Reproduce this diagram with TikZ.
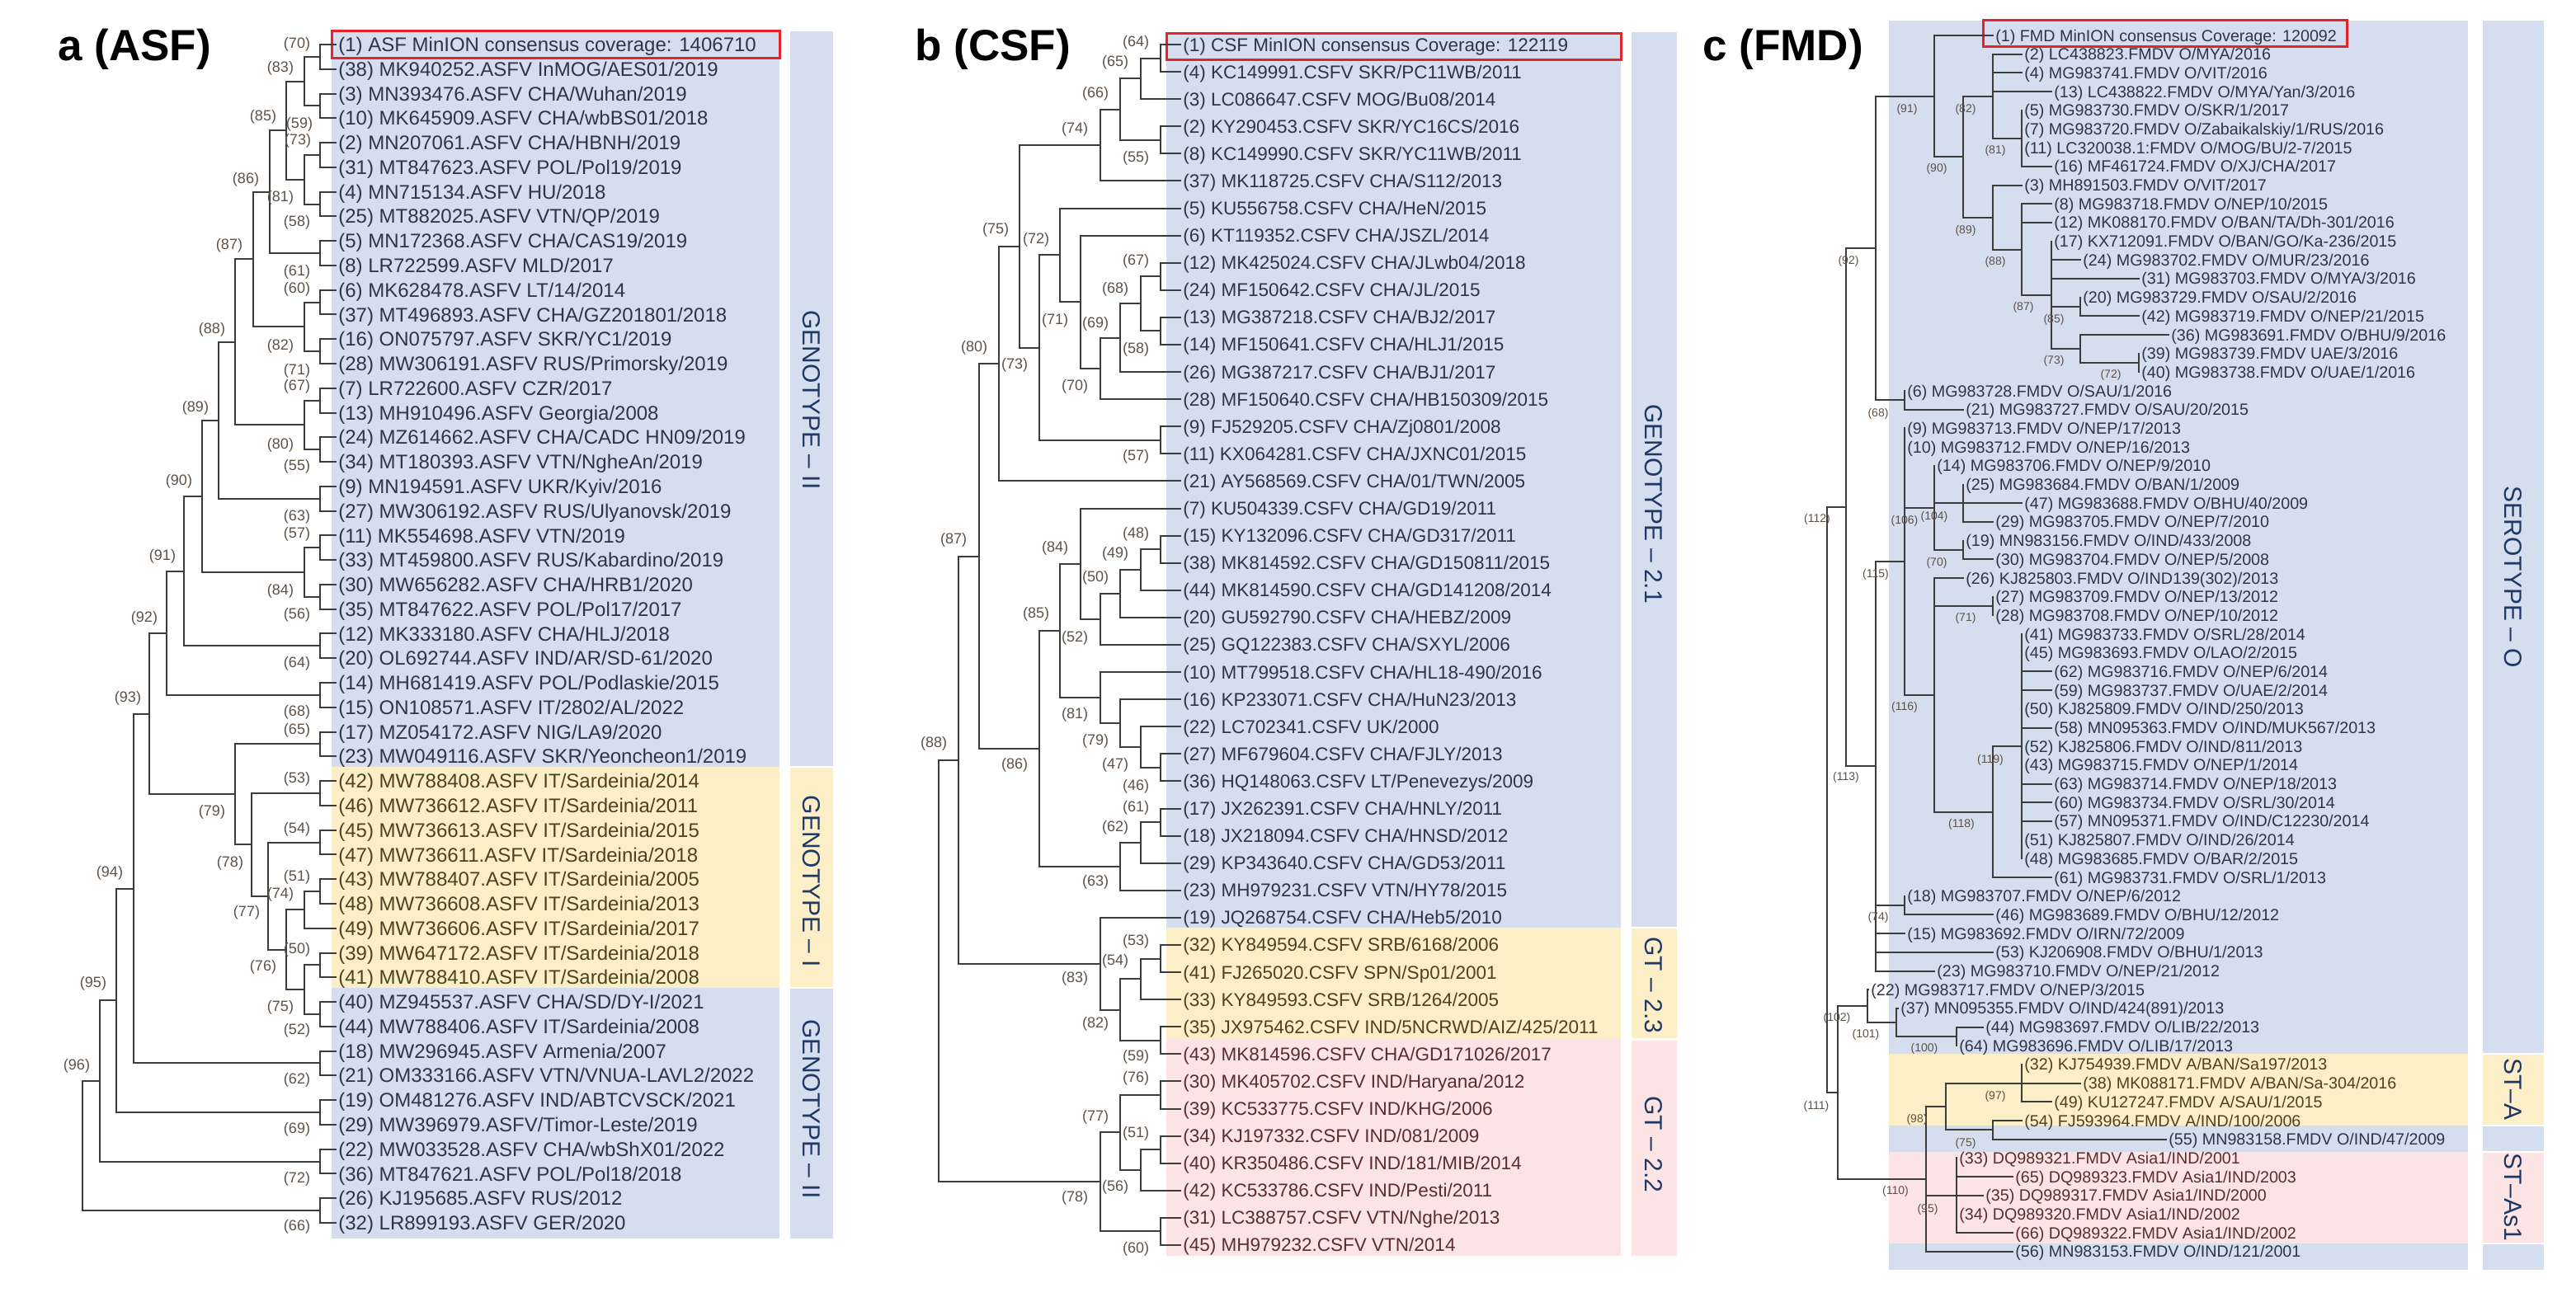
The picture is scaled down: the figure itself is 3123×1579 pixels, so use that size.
\documentclass[tikz,border=0pt]{standalone}
\usepackage{fontspec}
\setmainfont{Liberation Sans}
\definecolor{bgb}{HTML}{D5DEEF}
\definecolor{bgy}{HTML}{FCEFC8}
\definecolor{bgp}{HTML}{FCE3E4}
\definecolor{tblue}{HTML}{2E3548}
\definecolor{tyel}{HTML}{4E4124}
\definecolor{tpink}{HTML}{5A2E30}
\definecolor{treec}{HTML}{3C3C3C}
\definecolor{bsc}{HTML}{5E5246}
\definecolor{navy}{HTML}{1F3864}
\definecolor{redb}{HTML}{E3242B}
\newcommand\ra[1]{(54+(#1-1)*29.77)}
\newcommand\rb[1]{(54+(#1-1)*33.09)}
\newcommand\rc[1]{(43+(#1-1)*22.69)}
\newcommand\myleaf[5]{\coordinate (#1) at ({#2-2},{#3});\node[#4] (#1t) at (#2,{#3}) {#5};}
\newcommand\inode[3]{\coordinate (#1) at (#2,{#3});}
\newcommand\kids[2]{\foreach \k in {#2}{\draw[br] (#1) |- (\k);}}
\begin{document}
\begin{tikzpicture}[x=0.5pt,y=-0.5pt,
  br/.style={draw=treec,line width=1pt},
  leaf/.style={anchor=base west,inner sep=0pt},
  la/.style={leaf,font=\fontsize{12}{12}\selectfont,yshift=-4.3pt},
  lb/.style={leaf,font=\fontsize{11.25}{11.25}\selectfont,yshift=-4pt},
  lc/.style={leaf,font=\fontsize{9.85}{9.85}\selectfont,yshift=-3.5pt},
  cb/.style={text=tblue}, cy/.style={text=tyel}, cp/.style={text=tpink},
  bsa/.style={inner sep=0pt,text=bsc,font=\fontsize{9}{9}\selectfont},
  bsc/.style={inner sep=0pt,text=bsc,font=\fontsize{7}{7}\selectfont},
  bartext/.style={inner sep=0pt,text=navy,rotate=-90,font=\fontsize{15}{15}\selectfont},
  title/.style={anchor=base west,inner sep=0pt,font=\fontsize{26.5}{26.5}\selectfont\bfseries},
  redbox/.style={draw=redb,line width=1.5pt}]
\useasboundingbox (0,0) rectangle (3123,1579);
% ---------------- backgrounds ----------------
\fill[bgb] (402,38) rectangle (945,930);
\fill[bgy] (402,930) rectangle (945,1198);
\fill[bgb] (402,1198) rectangle (945,1502);
\fill[bgb] (958,38) rectangle (1010,929);
\fill[bgy] (958,931) rectangle (1010,1197);
\fill[bgb] (958,1199) rectangle (1010,1502);
\fill[bgb] (1414,39) rectangle (1965,1125);
\fill[bgy] (1414,1125) rectangle (1965,1260);
\fill[bgp] (1414,1260) rectangle (1965,1523);
\fill[bgb] (1978,39) rectangle (2033,1124);
\fill[bgy] (1978,1126) rectangle (2033,1259);
\fill[bgp] (1978,1262) rectangle (2033,1523);
\fill[bgb] (2290,25) rectangle (2992,1278);
\fill[bgy] (2290,1278) rectangle (2992,1365);
\fill[bgb] (2290,1365) rectangle (2992,1397);
\fill[bgp] (2290,1397) rectangle (2992,1508);
\fill[bgb] (2290,1508) rectangle (2992,1540);
\fill[bgb] (3010,25) rectangle (3084,1277);
\fill[bgy] (3010,1279) rectangle (3084,1364);
\fill[bgb] (3010,1366) rectangle (3084,1396);
\fill[bgp] (3010,1398) rectangle (3084,1507);
\fill[bgb] (3010,1509) rectangle (3084,1540);
% ---------------- titles ----------------
\node[title] (ta) at (70,73) {a (ASF)};
\node[title] (tb) at (1109,73) {b (CSF)};
\node[title] (tc) at (2064,73) {c (FMD)};
% ---------------- bar labels ----------------
\node[bartext] (ga1) at (984,485) {GENOTYPE – II};
\node[bartext] (ga2) at (984,1069) {GENOTYPE – I};
\node[bartext] (ga3) at (984,1345) {GENOTYPE – II};
\node[bartext] (gb1) at (2005,611) {GENOTYPE – 2.1};
\node[bartext] (gb2) at (2005,1195) {GT – 2.3};
\node[bartext] (gb3) at (2005,1388) {GT – 2.2};
\node[bartext] (gc1) at (3047,700) {SEROTYPE – O};
\node[bartext] (gc2) at (3047,1321) {ST–A};
\node[bartext] (gc3) at (3047,1452) {ST–As1};
% ================= PANEL A =================
\myleaf{a1}{410}{\ra{1}}{la,cb}{(1) ASF MinION consensus coverage: 1406710}
\myleaf{a2}{410}{\ra{2}}{la,cb}{(38) MK940252.ASFV InMOG/AES01/2019}
\myleaf{a3}{410}{\ra{3}}{la,cb}{(3) MN393476.ASFV CHA/Wuhan/2019}
\myleaf{a4}{410}{\ra{4}}{la,cb}{(10) MK645909.ASFV CHA/wbBS01/2018}
\myleaf{a5}{410}{\ra{5}}{la,cb}{(2) MN207061.ASFV CHA/HBNH/2019}
\myleaf{a6}{410}{\ra{6}}{la,cb}{(31) MT847623.ASFV POL/Pol19/2019}
\myleaf{a7}{410}{\ra{7}}{la,cb}{(4) MN715134.ASFV HU/2018}
\myleaf{a8}{410}{\ra{8}}{la,cb}{(25) MT882025.ASFV VTN/QP/2019}
\myleaf{a9}{410}{\ra{9}}{la,cb}{(5) MN172368.ASFV CHA/CAS19/2019}
\myleaf{a10}{410}{\ra{10}}{la,cb}{(8) LR722599.ASFV MLD/2017}
\myleaf{a11}{410}{\ra{11}}{la,cb}{(6) MK628478.ASFV LT/14/2014}
\myleaf{a12}{410}{\ra{12}}{la,cb}{(37) MT496893.ASFV CHA/GZ201801/2018}
\myleaf{a13}{410}{\ra{13}}{la,cb}{(16) ON075797.ASFV SKR/YC1/2019}
\myleaf{a14}{410}{\ra{14}}{la,cb}{(28) MW306191.ASFV RUS/Primorsky/2019}
\myleaf{a15}{410}{\ra{15}}{la,cb}{(7) LR722600.ASFV CZR/2017}
\myleaf{a16}{410}{\ra{16}}{la,cb}{(13) MH910496.ASFV Georgia/2008}
\myleaf{a17}{410}{\ra{17}}{la,cb}{(24) MZ614662.ASFV CHA/CADC HN09/2019}
\myleaf{a18}{410}{\ra{18}}{la,cb}{(34) MT180393.ASFV VTN/NgheAn/2019}
\myleaf{a19}{410}{\ra{19}}{la,cb}{(9) MN194591.ASFV UKR/Kyiv/2016}
\myleaf{a20}{410}{\ra{20}}{la,cb}{(27) MW306192.ASFV RUS/Ulyanovsk/2019}
\myleaf{a21}{410}{\ra{21}}{la,cb}{(11) MK554698.ASFV VTN/2019}
\myleaf{a22}{410}{\ra{22}}{la,cb}{(33) MT459800.ASFV RUS/Kabardino/2019}
\myleaf{a23}{410}{\ra{23}}{la,cb}{(30) MW656282.ASFV CHA/HRB1/2020}
\myleaf{a24}{410}{\ra{24}}{la,cb}{(35) MT847622.ASFV POL/Pol17/2017}
\myleaf{a25}{410}{\ra{25}}{la,cb}{(12) MK333180.ASFV CHA/HLJ/2018}
\myleaf{a26}{410}{\ra{26}}{la,cb}{(20) OL692744.ASFV IND/AR/SD-61/2020}
\myleaf{a27}{410}{\ra{27}}{la,cb}{(14) MH681419.ASFV POL/Podlaskie/2015}
\myleaf{a28}{410}{\ra{28}}{la,cb}{(15) ON108571.ASFV IT/2802/AL/2022}
\myleaf{a29}{410}{\ra{29}}{la,cb}{(17) MZ054172.ASFV NIG/LA9/2020}
\myleaf{a30}{410}{\ra{30}}{la,cb}{(23) MW049116.ASFV SKR/Yeoncheon1/2019}
\myleaf{a31}{410}{\ra{31}}{la,cy}{(42) MW788408.ASFV IT/Sardeinia/2014}
\myleaf{a32}{410}{\ra{32}}{la,cy}{(46) MW736612.ASFV IT/Sardeinia/2011}
\myleaf{a33}{410}{\ra{33}}{la,cy}{(45) MW736613.ASFV IT/Sardeinia/2015}
\myleaf{a34}{410}{\ra{34}}{la,cy}{(47) MW736611.ASFV IT/Sardeinia/2018}
\myleaf{a35}{410}{\ra{35}}{la,cy}{(43) MW788407.ASFV IT/Sardeinia/2005}
\myleaf{a36}{410}{\ra{36}}{la,cy}{(48) MW736608.ASFV IT/Sardeinia/2013}
\myleaf{a37}{410}{\ra{37}}{la,cy}{(49) MW736606.ASFV IT/Sardeinia/2017}
\myleaf{a38}{410}{\ra{38}}{la,cy}{(39) MW647172.ASFV IT/Sardeinia/2018}
\myleaf{a39}{410}{\ra{39}}{la,cy}{(41) MW788410.ASFV IT/Sardeinia/2008}
\myleaf{a40}{410}{\ra{40}}{la,cb}{(40) MZ945537.ASFV CHA/SD/DY-I/2021}
\myleaf{a41}{410}{\ra{41}}{la,cb}{(44) MW788406.ASFV IT/Sardeinia/2008}
\myleaf{a42}{410}{\ra{42}}{la,cb}{(18) MW296945.ASFV Armenia/2007}
\myleaf{a43}{410}{\ra{43}}{la,cb}{(21) OM333166.ASFV VTN/VNUA-LAVL2/2022}
\myleaf{a44}{410}{\ra{44}}{la,cb}{(19) OM481276.ASFV IND/ABTCVSCK/2021}
\myleaf{a45}{410}{\ra{45}}{la,cb}{(29) MW396979.ASFV/Timor-Leste/2019}
\myleaf{a46}{410}{\ra{46}}{la,cb}{(22) MW033528.ASFV CHA/wbShX01/2022}
\myleaf{a47}{410}{\ra{47}}{la,cb}{(36) MT847621.ASFV POL/Pol18/2018}
\myleaf{a48}{410}{\ra{48}}{la,cb}{(26) KJ195685.ASFV RUS/2012}
\myleaf{a49}{410}{\ra{49}}{la,cb}{(32) LR899193.ASFV GER/2020}
\draw[redbox] (402,37) rectangle (945,70);
\foreach \i/\j in {1/2,3/4,5/6,7/8,9/10,11/12,13/14,15/16,17/18,19/20,21/22,23/24,25/26,27/28,29/30,31/32,33/34,35/36,38/39,40/41,42/43,44/45,46/47,48/49}{
  \coordinate (ap\i) at (388,{54+((\i+\j)/2-1)*29.77});
  \draw[br] (ap\i) |- (a\i);
  \draw[br] (ap\i) |- (a\j);}
\inode{aN2}{369}{\ra{2.5}} \kids{aN2}{ap1,ap3}
\inode{aN56}{369}{\ra{6.5}} \kids{aN56}{ap5,ap7}
\inode{aN3}{347}{\ra{4.5}} \kids{aN3}{aN2,aN56}
\inode{aN4}{327}{\ra{7}} \kids{aN4}{aN3,ap9}
\inode{aN5}{369}{\ra{12.5}} \kids{aN5}{ap11,ap13}
\inode{aN6}{307}{\ra{9.75}} \kids{aN6}{aN4,aN5}
\inode{aN8}{369}{\ra{16.5}} \kids{aN8}{ap15,ap17}
\inode{aN7}{285}{\ra{13.125}} \kids{aN7}{aN6,aN8}
\inode{aN9}{265}{\ra{16.3125}} \kids{aN9}{aN7,ap19}
\inode{aN10}{369}{\ra{22.5}} \kids{aN10}{ap21,ap23}
\inode{aN11}{245}{\ra{19.406}} \kids{aN11}{aN9,aN10}
\inode{aN12}{223}{\ra{22.453}} \kids{aN12}{aN11,ap25}
\inode{aN13}{202}{\ra{24.977}} \kids{aN13}{aN12,ap27}
\inode{aP1}{369}{\ra{36.25}} \kids{aP1}{ap35,a37}
\inode{aP2}{369}{\ra{39.5}} \kids{aP2}{ap38,ap40}
\inode{aP3}{347}{\ra{37.875}} \kids{aP3}{aP1,aP2}
\inode{aP4}{325}{\ra{35.6875}} \kids{aP4}{ap33,aP3}
\inode{aP5}{305}{\ra{33.594}} \kids{aP5}{ap31,aP4}
\inode{aP6}{285}{\ra{31.547}} \kids{aP6}{ap29,aP5}
\inode{aN14}{181}{\ra{28.262}} \kids{aN14}{aN13,aP6}
\inode{aN15}{162}{\ra{35.381}} \kids{aN15}{aN14,ap42}
\inode{aN16}{141}{\ra{39.94}} \kids{aN16}{aN15,ap44}
\inode{aN17}{121}{\ra{43.22}} \kids{aN17}{aN16,ap46}
\inode{aN18}{100}{\ra{45.86}} \kids{aN18}{aN17,ap48}
\foreach \x/\y/\t [count=\i] in {360/54/70,340/83/83,319/142/85,363/151/59,361/171/73,298/218/86,340/240/81,360/270/58,278/298/87,360/330/61,360/351/60,257/400/88,340/420/82,360/450/71,360/469/67,237/495/89,340/540/80,360/566/55,217/584/90,360/627/63,360/648/57,197/675/91,340/717/84,360/746/56,175/750/92,360/805/64,155/847/93,360/864/68,360/886/65,360/945/53,257/985/79,360/1006/54,279/1047/78,133/1059/94,360/1064/51,340/1085/74,299/1107/77,360/1152/50,319/1173/76,113/1193/95,340/1222/75,360/1250/52,93/1293/96,360/1310/62,360/1370/69,360/1430/72,360/1488/66}
  {\node[bsa] (bsa\i) at (\x,\y) {(\t)};}
% ================= PANEL B =================
\myleaf{b1}{1434}{\rb{1}}{lb,cb}{(1) CSF MinION consensus Coverage: 122119}
\myleaf{b2}{1434}{\rb{2}}{lb,cb}{(4) KC149991.CSFV SKR/PC11WB/2011}
\myleaf{b3}{1434}{\rb{3}}{lb,cb}{(3) LC086647.CSFV MOG/Bu08/2014}
\myleaf{b4}{1434}{\rb{4}}{lb,cb}{(2) KY290453.CSFV SKR/YC16CS/2016}
\myleaf{b5}{1434}{\rb{5}}{lb,cb}{(8) KC149990.CSFV SKR/YC11WB/2011}
\myleaf{b6}{1434}{\rb{6}}{lb,cb}{(37) MK118725.CSFV CHA/S112/2013}
\myleaf{b7}{1434}{\rb{7}}{lb,cb}{(5) KU556758.CSFV CHA/HeN/2015}
\myleaf{b8}{1434}{\rb{8}}{lb,cb}{(6) KT119352.CSFV CHA/JSZL/2014}
\myleaf{b9}{1434}{\rb{9}}{lb,cb}{(12) MK425024.CSFV CHA/JLwb04/2018}
\myleaf{b10}{1434}{\rb{10}}{lb,cb}{(24) MF150642.CSFV CHA/JL/2015}
\myleaf{b11}{1434}{\rb{11}}{lb,cb}{(13) MG387218.CSFV CHA/BJ2/2017}
\myleaf{b12}{1434}{\rb{12}}{lb,cb}{(14) MF150641.CSFV CHA/HLJ1/2015}
\myleaf{b13}{1434}{\rb{13}}{lb,cb}{(26) MG387217.CSFV CHA/BJ1/2017}
\myleaf{b14}{1434}{\rb{14}}{lb,cb}{(28) MF150640.CSFV CHA/HB150309/2015}
\myleaf{b15}{1434}{\rb{15}}{lb,cb}{(9) FJ529205.CSFV CHA/Zj0801/2008}
\myleaf{b16}{1434}{\rb{16}}{lb,cb}{(11) KX064281.CSFV CHA/JXNC01/2015}
\myleaf{b17}{1434}{\rb{17}}{lb,cb}{(21) AY568569.CSFV CHA/01/TWN/2005}
\myleaf{b18}{1434}{\rb{18}}{lb,cb}{(7) KU504339.CSFV CHA/GD19/2011}
\myleaf{b19}{1434}{\rb{19}}{lb,cb}{(15) KY132096.CSFV CHA/GD317/2011}
\myleaf{b20}{1434}{\rb{20}}{lb,cb}{(38) MK814592.CSFV CHA/GD150811/2015}
\myleaf{b21}{1434}{\rb{21}}{lb,cb}{(44) MK814590.CSFV CHA/GD141208/2014}
\myleaf{b22}{1434}{\rb{22}}{lb,cb}{(20) GU592790.CSFV CHA/HEBZ/2009}
\myleaf{b23}{1434}{\rb{23}}{lb,cb}{(25) GQ122383.CSFV CHA/SXYL/2006}
\myleaf{b24}{1434}{\rb{24}}{lb,cb}{(10) MT799518.CSFV CHA/HL18-490/2016}
\myleaf{b25}{1434}{\rb{25}}{lb,cb}{(16) KP233071.CSFV CHA/HuN23/2013}
\myleaf{b26}{1434}{\rb{26}}{lb,cb}{(22) LC702341.CSFV UK/2000}
\myleaf{b27}{1434}{\rb{27}}{lb,cb}{(27) MF679604.CSFV CHA/FJLY/2013}
\myleaf{b28}{1434}{\rb{28}}{lb,cb}{(36) HQ148063.CSFV LT/Penevezys/2009}
\myleaf{b29}{1434}{\rb{29}}{lb,cb}{(17) JX262391.CSFV CHA/HNLY/2011}
\myleaf{b30}{1434}{\rb{30}}{lb,cb}{(18) JX218094.CSFV CHA/HNSD/2012}
\myleaf{b31}{1434}{\rb{31}}{lb,cb}{(29) KP343640.CSFV CHA/GD53/2011}
\myleaf{b32}{1434}{\rb{32}}{lb,cb}{(23) MH979231.CSFV VTN/HY78/2015}
\myleaf{b33}{1434}{\rb{33}}{lb,cb}{(19) JQ268754.CSFV CHA/Heb5/2010}
\myleaf{b34}{1434}{\rb{34}}{lb,cy}{(32) KY849594.CSFV SRB/6168/2006}
\myleaf{b35}{1434}{\rb{35}}{lb,cy}{(41) FJ265020.CSFV SPN/Sp01/2001}
\myleaf{b36}{1434}{\rb{36}}{lb,cy}{(33) KY849593.CSFV SRB/1264/2005}
\myleaf{b37}{1434}{\rb{37}}{lb,cy}{(35) JX975462.CSFV IND/5NCRWD/AIZ/425/2011}
\myleaf{b38}{1434}{\rb{38}}{lb,cp}{(43) MK814596.CSFV CHA/GD171026/2017}
\myleaf{b39}{1434}{\rb{39}}{lb,cp}{(30) MK405702.CSFV IND/Haryana/2012}
\myleaf{b40}{1434}{\rb{40}}{lb,cp}{(39) KC533775.CSFV IND/KHG/2006}
\myleaf{b41}{1434}{\rb{41}}{lb,cp}{(34) KJ197332.CSFV IND/081/2009}
\myleaf{b42}{1434}{\rb{42}}{lb,cp}{(40) KR350486.CSFV IND/181/MIB/2014}
\myleaf{b43}{1434}{\rb{43}}{lb,cp}{(42) KC533786.CSFV IND/Pesti/2011}
\myleaf{b44}{1434}{\rb{44}}{lb,cp}{(31) LC388757.CSFV VTN/Nghe/2013}
\myleaf{b45}{1434}{\rb{45}}{lb,cp}{(45) MH979232.CSFV VTN/2014}
\draw[redbox] (1414,40) rectangle (1965,72);
\foreach \i/\j in {1/2,4/5,9/10,11/12,15/16,19/20,27/28,29/30,34/35,37/38,39/40,41/42,44/45}{
  \coordinate (bq\i) at (1407,{54+((\i+\j)/2-1)*33.09});
  \draw[br] (bq\i) |- (b\i);
  \draw[br] (bq\i) |- (b\j);}
\inode{bB1}{1383}{\rb{2.25}} \kids{bB1}{bq1,b3}
\inode{bB2}{1358}{\rb{3.375}} \kids{bB2}{bB1,bq4}
\inode{bB3}{1334}{\rb{4.6875}} \kids{bB3}{bB2,b6}
\inode{bB4}{1383}{\rb{10.5}} \kids{bB4}{bq9,bq11}
\inode{bB5}{1358}{\rb{11.75}} \kids{bB5}{bB4,b13}
\inode{bB6}{1334}{\rb{12.875}} \kids{bB6}{bB5,b14}
\inode{bB7}{1310}{\rb{10.4375}} \kids{bB7}{b8,bB6}
\inode{bB8}{1285}{\rb{8.71875}} \kids{bB8}{b7,bB7}
\inode{bB9}{1260}{\rb{12.109}} \kids{bB9}{bB8,bq15}
\inode{bB10}{1236}{\rb{8.398}} \kids{bB10}{bB3,bB9}
\inode{bB11}{1211}{\rb{12.699}} \kids{bB11}{bB10,b17}
\inode{bC1}{1383}{\rb{20.25}} \kids{bC1}{bq19,b21}
\inode{bC2}{1358}{\rb{21.125}} \kids{bC2}{bC1,b22}
\inode{bC3}{1334}{\rb{22.0625}} \kids{bC3}{bC2,b23}
\inode{bC4}{1310}{\rb{20.031}} \kids{bC4}{b18,bC3}
\inode{bC5}{1383}{\rb{26.75}} \kids{bC5}{b26,bq27}
\inode{bC6}{1358}{\rb{25.875}} \kids{bC6}{b25,bC5}
\inode{bC7}{1334}{\rb{24.9375}} \kids{bC7}{b24,bC6}
\inode{bC8}{1285}{\rb{22.484}} \kids{bC8}{bC4,bC7}
\inode{bC9}{1383}{\rb{30.25}} \kids{bC9}{bq29,b31}
\inode{bC10}{1358}{\rb{31.125}} \kids{bC10}{bC9,b32}
\inode{bC11}{1260}{\rb{26.805}} \kids{bC11}{bC8,bC10}
\inode{bC12}{1187}{\rb{19.752}} \kids{bC12}{bB11,bC11}
\inode{bD1}{1383}{\rb{35.25}} \kids{bD1}{bq34,b36}
\inode{bD2}{1358}{\rb{36.375}} \kids{bD2}{bD1,bq37}
\inode{bD3}{1334}{\rb{34.6875}} \kids{bD3}{b33,bD2}
\inode{bD4}{1162}{\rb{27.22}} \kids{bD4}{bC12,bD3}
\inode{bD5}{1383}{\rb{42.25}} \kids{bD5}{bq41,b43}
\inode{bD6}{1358}{\rb{40.875}} \kids{bD6}{bq39,bD5}
\inode{bD7}{1334}{\rb{42.6875}} \kids{bD7}{bD6,bq44}
\inode{bD8}{1138}{\rb{34.95}} \kids{bD8}{bD4,bD7}
\foreach \x/\y/\t [count=\i] in {1377/52/64,1352/76/65,1328/114/66,1303/157/74,1377/192/55,1207/279/75,1256/291/72,1377/317/67,1352/351/68,1279/389/71,1328/393/69,1377/424/58,1181/422/80,1230/443/73,1303/469/70,1377/554/57,1156/655/87,1377/648/48,1279/665/84,1352/672/49,1328/701/50,1256/745/85,1303/774/52,1303/867/81,1328/899/79,1132/902/88,1352/928/47,1230/928/86,1377/954/46,1377/980/61,1352/1004/62,1328/1070/63,1377/1142/53,1352/1166/54,1303/1187/83,1328/1242/82,1377/1282/59,1377/1308/76,1328/1355/77,1377/1375/51,1352/1440/56,1303/1453/78,1377/1515/60}
  {\node[bsa] (bsb\i) at (\x,\y) {(\t)};}
% ================= PANEL C =================
\myleaf{c1}{2419}{\rc{1}}{lc,cb}{(1) FMD MinION consensus Coverage: 120092}
\myleaf{c2}{2454}{\rc{2}}{lc,cb}{(2) LC438823.FMDV O/MYA/2016}
\myleaf{c3}{2454}{\rc{3}}{lc,cb}{(4) MG983741.FMDV O/VIT/2016}
\myleaf{c4}{2490}{\rc{4}}{lc,cb}{(13) LC438822.FMDV O/MYA/Yan/3/2016}
\myleaf{c5}{2454}{\rc{5}}{lc,cb}{(5) MG983730.FMDV O/SKR/1/2017}
\myleaf{c6}{2454}{\rc{6}}{lc,cb}{(7) MG983720.FMDV O/Zabaikalskiy/1/RUS/2016}
\myleaf{c7}{2454}{\rc{7}}{lc,cb}{(11) LC320038.1:FMDV O/MOG/BU/2-7/2015}
\myleaf{c8}{2490}{\rc{8}}{lc,cb}{(16) MF461724.FMDV O/XJ/CHA/2017}
\myleaf{c9}{2454}{\rc{9}}{lc,cb}{(3) MH891503.FMDV O/VIT/2017}
\myleaf{c10}{2490}{\rc{10}}{lc,cb}{(8) MG983718.FMDV O/NEP/10/2015}
\myleaf{c11}{2490}{\rc{11}}{lc,cb}{(12) MK088170.FMDV O/BAN/TA/Dh-301/2016}
\myleaf{c12}{2490}{\rc{12}}{lc,cb}{(17) KX712091.FMDV O/BAN/GO/Ka-236/2015}
\myleaf{c13}{2525}{\rc{13}}{lc,cb}{(24) MG983702.FMDV O/MUR/23/2016}
\myleaf{c14}{2596}{\rc{14}}{lc,cb}{(31) MG983703.FMDV O/MYA/3/2016}
\myleaf{c15}{2525}{\rc{15}}{lc,cb}{(20) MG983729.FMDV O/SAU/2/2016}
\myleaf{c16}{2596}{\rc{16}}{lc,cb}{(42) MG983719.FMDV O/NEP/21/2015}
\myleaf{c17}{2632}{\rc{17}}{lc,cb}{(36) MG983691.FMDV O/BHU/9/2016}
\myleaf{c18}{2596}{\rc{18}}{lc,cb}{(39) MG983739.FMDV UAE/3/2016}
\myleaf{c19}{2596}{\rc{19}}{lc,cb}{(40) MG983738.FMDV O/UAE/1/2016}
\myleaf{c20}{2312}{\rc{20}}{lc,cb}{(6) MG983728.FMDV O/SAU/1/2016}
\myleaf{c21}{2383}{\rc{21}}{lc,cb}{(21) MG983727.FMDV O/SAU/20/2015}
\myleaf{c22}{2312}{\rc{22}}{lc,cb}{(9) MG983713.FMDV O/NEP/17/2013}
\myleaf{c23}{2312}{\rc{23}}{lc,cb}{(10) MG983712.FMDV O/NEP/16/2013}
\myleaf{c24}{2348}{\rc{24}}{lc,cb}{(14) MG983706.FMDV O/NEP/9/2010}
\myleaf{c25}{2383}{\rc{25}}{lc,cb}{(25) MG983684.FMDV O/BAN/1/2009}
\myleaf{c26}{2454}{\rc{26}}{lc,cb}{(47) MG983688.FMDV O/BHU/40/2009}
\myleaf{c27}{2419}{\rc{27}}{lc,cb}{(29) MG983705.FMDV O/NEP/7/2010}
\myleaf{c28}{2383}{\rc{28}}{lc,cb}{(19) MN983156.FMDV O/IND/433/2008}
\myleaf{c29}{2419}{\rc{29}}{lc,cb}{(30) MG983704.FMDV O/NEP/5/2008}
\myleaf{c30}{2383}{\rc{30}}{lc,cb}{(26) KJ825803.FMDV O/IND139(302)/2013}
\myleaf{c31}{2419}{\rc{31}}{lc,cb}{(27) MG983709.FMDV O/NEP/13/2012}
\myleaf{c32}{2419}{\rc{32}}{lc,cb}{(28) MG983708.FMDV O/NEP/10/2012}
\myleaf{c33}{2454}{\rc{33}}{lc,cb}{(41) MG983733.FMDV O/SRL/28/2014}
\myleaf{c34}{2454}{\rc{34}}{lc,cb}{(45) MG983693.FMDV O/LAO/2/2015}
\myleaf{c35}{2490}{\rc{35}}{lc,cb}{(62) MG983716.FMDV O/NEP/6/2014}
\myleaf{c36}{2490}{\rc{36}}{lc,cb}{(59) MG983737.FMDV O/UAE/2/2014}
\myleaf{c37}{2454}{\rc{37}}{lc,cb}{(50) KJ825809.FMDV O/IND/250/2013}
\myleaf{c38}{2490}{\rc{38}}{lc,cb}{(58) MN095363.FMDV O/IND/MUK567/2013}
\myleaf{c39}{2454}{\rc{39}}{lc,cb}{(52) KJ825806.FMDV O/IND/811/2013}
\myleaf{c40}{2454}{\rc{40}}{lc,cb}{(43) MG983715.FMDV O/NEP/1/2014}
\myleaf{c41}{2490}{\rc{41}}{lc,cb}{(63) MG983714.FMDV O/NEP/18/2013}
\myleaf{c42}{2490}{\rc{42}}{lc,cb}{(60) MG983734.FMDV O/SRL/30/2014}
\myleaf{c43}{2490}{\rc{43}}{lc,cb}{(57) MN095371.FMDV O/IND/C12230/2014}
\myleaf{c44}{2454}{\rc{44}}{lc,cb}{(51) KJ825807.FMDV O/IND/26/2014}
\myleaf{c45}{2454}{\rc{45}}{lc,cb}{(48) MG983685.FMDV O/BAR/2/2015}
\myleaf{c46}{2490}{\rc{46}}{lc,cb}{(61) MG983731.FMDV O/SRL/1/2013}
\myleaf{c47}{2312}{\rc{47}}{lc,cb}{(18) MG983707.FMDV O/NEP/6/2012}
\myleaf{c48}{2419}{\rc{48}}{lc,cb}{(46) MG983689.FMDV O/BHU/12/2012}
\myleaf{c49}{2312}{\rc{49}}{lc,cb}{(15) MG983692.FMDV O/IRN/72/2009}
\myleaf{c50}{2419}{\rc{50}}{lc,cb}{(53) KJ206908.FMDV O/BHU/1/2013}
\myleaf{c51}{2348}{\rc{51}}{lc,cb}{(23) MG983710.FMDV O/NEP/21/2012}
\myleaf{c52}{2268}{\rc{52}}{lc,cb}{(22) MG983717.FMDV O/NEP/3/2015}
\myleaf{c53}{2304}{\rc{53}}{lc,cb}{(37) MN095355.FMDV O/IND/424(891)/2013}
\myleaf{c54}{2407}{\rc{54}}{lc,cb}{(44) MG983697.FMDV O/LIB/22/2013}
\myleaf{c55}{2375}{\rc{55}}{lc,cb}{(64) MG983696.FMDV O/LIB/17/2013}
\myleaf{c56}{2454}{\rc{56}}{lc,cy}{(32) KJ754939.FMDV A/BAN/Sa197/2013}
\myleaf{c57}{2525}{\rc{57}}{lc,cy}{(38) MK088171.FMDV A/BAN/Sa-304/2016}
\myleaf{c58}{2490}{\rc{58}}{lc,cy}{(49) KU127247.FMDV A/SAU/1/2015}
\myleaf{c59}{2454}{\rc{59}}{lc,cy}{(54) FJ593964.FMDV A/IND/100/2006}
\myleaf{c60}{2629}{\rc{60}}{lc,cb}{(55) MN983158.FMDV O/IND/47/2009}
\myleaf{c61}{2375}{\rc{61}}{lc,cp}{(33) DQ989321.FMDV Asia1/IND/2001}
\myleaf{c62}{2443}{\rc{62}}{lc,cp}{(65) DQ989323.FMDV Asia1/IND/2003}
\myleaf{c63}{2407}{\rc{63}}{lc,cp}{(35) DQ989317.FMDV Asia1/IND/2000}
\myleaf{c64}{2375}{\rc{64}}{lc,cp}{(34) DQ989320.FMDV Asia1/IND/2002}
\myleaf{c65}{2443}{\rc{65}}{lc,cp}{(66) DQ989322.FMDV Asia1/IND/2002}
\myleaf{c66}{2443}{\rc{66}}{lc,cb}{(56) MN983153.FMDV O/IND/121/2001}
\draw[redbox] (2404,24) rectangle (2845,56);
\inode{cE1}{2451}{\rc{6.5}} \kids{cE1}{c5,c6,c7,c8}
\inode{cE2}{2416}{\rc{4.25}} \kids{cE2}{c2,c3,c4,cE1}
\inode{cF1}{2522}{\rc{15.5}} \kids{cF1}{c15,c16}
\inode{cF2}{2593}{\rc{18.5}} \kids{cF2}{c18,c19}
\inode{cF3}{2522}{\rc{17.75}} \kids{cF3}{c17,cF2}
\inode{cF4}{2487}{\rc{14.875}} \kids{cF4}{c12,c13,c14,cF1,cF3}
\inode{cF5}{2451}{\rc{12.4375}} \kids{cF5}{c10,c11,cF4}
\inode{cF6}{2416}{\rc{10.72}} \kids{cF6}{c9,cF5}
\inode{cE3}{2380}{\rc{7.484}} \kids{cE3}{cE2,cF6}
\inode{cE4}{2345}{\rc{4.242}} \kids{cE4}{c1,cE3}
\inode{cG1}{2309}{\rc{20.5}} \kids{cG1}{c20,c21}
\inode{cE5}{2274}{\rc{12.371}} \kids{cE5}{cE4,cG1}
\inode{cH1}{2380}{\rc{26}} \kids{cH1}{c25,c26,c27}
\inode{cH2}{2380}{\rc{28.5}} \kids{cH2}{c28,c29}
\inode{cH3}{2345}{\rc{26.25}} \kids{cH3}{c24,cH1,cH2}
\inode{cI1}{2416}{\rc{31.5}} \kids{cI1}{c31,c32}
\inode{cI2}{2451}{\rc{39}} \kids{cI2}{c33,c34,c35,c36,c37,c38,c39,c40,c41,c42,c43,c44,c45}
\inode{cI3}{2416}{\rc{42.5}} \kids{cI3}{cI2,c46}
\inode{cI4}{2345}{\rc{36.25}} \kids{cI4}{c30,cI1,cI3}
\inode{cH4}{2309}{\rc{29.125}} \kids{cH4}{c22,c23,cH3,cI4}
\inode{cJ1}{2309}{\rc{47.5}} \kids{cJ1}{c47,c48}
\inode{cH5}{2274}{\rc{40.06}} \kids{cH5}{cH4,cJ1,c49,c50,c51}
\inode{cE6}{2238}{\rc{26.22}} \kids{cE6}{cE5,cH5}
\inode{cK1}{2372}{\rc{54.5}} \kids{cK1}{c54,c55}
\inode{cK2}{2299}{\rc{53.75}} \kids{cK2}{c53,cK1}
\inode{cK3}{2264}{\rc{52.875}} \kids{cK3}{c52,cK2}
\inode{cL1}{2451}{\rc{57}} \kids{cL1}{c56,c57,c58}
\inode{cL2}{2416}{\rc{59.5}} \kids{cL2}{c59,c60}
\inode{cL3}{2359}{\rc{58.25}} \kids{cL3}{cL1,cL2}
\inode{cL4}{2372}{\rc{63}} \kids{cL4}{c61,c62,c63,c64,c65}
\inode{cL5}{2335}{\rc{62.125}} \kids{cL5}{cL3,cL4,c66}
\inode{cM1}{2228}{\rc{57.5}} \kids{cM1}{cK3,cL5}
\inode{cR}{2215}{\rc{41.86}} \kids{cR}{cE6,cM1}
\foreach \x/\y/\t [count=\i] in {2312/133/91,2383/133/82,2419/183/81,2348/205/90,2383/280/89,2241/317/92,2419/318/88,2453/373/87,2490/388/85,2490/438/73,2559/455/72,2277/502/68,2203/630/112,2309/632/106,2345/627/104,2348/683/70,2274/697/115,2383/750/71,2309/858/116,2413/922/119,2238/943/113,2378/1000/118,2277/1113/74,2227/1235/102,2262/1255/101,2333/1272/100,2202/1342/111,2419/1330/97,2324/1358/98,2383/1387/75,2298/1445/110,2337/1467/95}
  {\node[bsc] (bsc\i) at (\x,\y) {(\t)};}
\end{tikzpicture}
\end{document}
